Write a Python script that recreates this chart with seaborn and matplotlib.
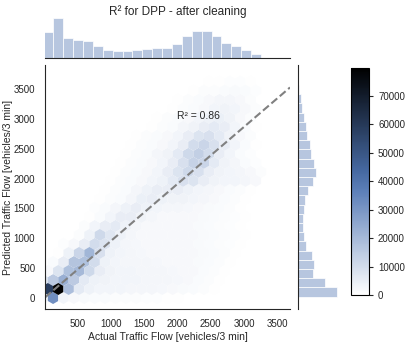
import numpy as np
import matplotlib
matplotlib.use("Agg")
import matplotlib.pyplot as plt
import seaborn as sns
from seaborn.utils import set_hls_values

# --- data ------------------------------------------------------------------
# hexbin lattice used for the joint panel (actual on x, predicted on y)
hex_gridsize = 21
actual_extent = (-25, 3255)
predicted_extent = (0, 3620)

# samples per hex cell, in thousands; one list per hex row from bottom to top,
# even rows hold 22 cells, odd rows are the half-shifted lattice with 21 cells
hex_counts_k = [
    [3, 32, 3, 2, 1.8, 1.5, 1.5, 1.2, 1, 1, 0.8, 0.8, 0.6, 0.5, 0.3, 0, 0, 0, 0, 0, 0, 0],
    [58, 79.8, 19, 6, 4, 3, 3, 3, 2.8, 2.5, 2.5, 2.2, 2, 1.8, 1.5, 1, 0.5, 0, 0, 0, 0],
    [8, 15, 23, 15, 6, 4, 3.5, 3, 3, 3, 2.8, 2.5, 2.5, 2.2, 2, 1.5, 1, 0.5, 0, 0, 0, 0],
    [2, 8, 18, 20, 11, 5, 3.5, 3, 3, 2.8, 2.5, 2.5, 2.2, 2, 2, 1.5, 1, 0.5, 0, 0, 0],
    [0, 1.5, 5, 17, 18, 10, 4, 3, 2.5, 2.5, 2.5, 2.2, 2, 2, 2, 1.8, 1.5, 1, 0.5, 0, 0, 0],
    [0, 0.5, 4, 12, 21, 9, 4, 3, 2.5, 2.2, 2, 2, 2, 2, 2, 1.8, 1.5, 1, 0.5, 0, 0],
    [0, 0, 0.8, 2, 5, 10, 8, 4, 2.5, 2.2, 2, 2, 2, 2, 2, 1.8, 1.5, 1.2, 0.8, 0.4, 0, 0],
    [0, 0, 0, 1, 4, 11, 7, 4, 2.5, 2, 2, 2, 2, 2, 2, 1.8, 1.5, 1.2, 0.8, 0.4, 0],
    [0, 0, 0, 0, 1, 3, 5, 6, 4, 2.5, 2, 2, 2, 2, 2, 1.8, 1.5, 1.2, 0.8, 0.4, 0, 0],
    [0, 0, 0, 0, 0.5, 1.5, 3, 5, 5, 3.5, 2.5, 2, 2, 2, 2, 1.8, 1.5, 1.2, 0.8, 0.4, 0],
    [0, 0, 0, 0, 0, 0.8, 1.5, 2.5, 4, 5, 4, 3, 2.5, 2.5, 2.2, 2, 1.8, 1.5, 1, 0.5, 0, 0],
    [0, 0, 0, 0, 0, 0.5, 1, 1.5, 2.5, 4.5, 5, 4, 3.5, 3.5, 3, 2.5, 2, 1.5, 1, 0.5, 0],
    [0, 0, 0, 0, 0, 0, 0.5, 1, 1.5, 2.5, 4, 5, 5, 5, 4, 3, 2.5, 2, 1.5, 1, 0.5, 0],
    [0, 0, 0, 0, 0, 0, 0.5, 1, 1.5, 2, 3, 4, 6, 9, 8, 5, 3.5, 3, 3, 2.5, 2],
    [0, 0, 0, 0, 0, 0, 0, 0.5, 1, 1.5, 2, 3, 5, 8, 11, 9, 5, 3.5, 3, 2.5, 2, 1],
    [0, 0, 0, 0, 0, 0, 0, 0.5, 1, 1.5, 2, 3, 5, 9, 13, 12, 6, 3.5, 2.5, 1.5, 0.8],
    [0, 0, 0, 0, 0, 0, 0, 0, 0.5, 1, 1.5, 2.5, 3.5, 6, 11, 14, 10, 5, 3, 1.5, 0.8, 0],
    [0, 0, 0, 0, 0, 0, 0, 0, 0.5, 1, 1.5, 2, 3, 5, 10, 12, 9, 5, 3, 1.5, 0.5],
    [0, 0, 0, 0, 0, 0, 0, 0, 0, 0.5, 1, 1.5, 2, 3, 5, 8, 9, 6, 3.5, 2, 1, 0],
    [0, 0, 0, 0, 0, 0, 0, 0, 0, 0, 0.5, 1, 1.5, 2.5, 3.5, 5, 6, 5, 3, 1.5, 0.5],
    [0, 0, 0, 0, 0, 0, 0, 0, 0, 0, 0, 0.5, 1, 1.5, 2, 3, 4, 4.5, 3.5, 2, 1, 0],
    [0, 0, 0, 0, 0, 0, 0, 0, 0, 0, 0, 0, 0.5, 1, 1.5, 2, 3, 3.5, 3, 2, 1],
    [0, 0, 0, 0, 0, 0, 0, 0, 0, 0, 0, 0, 0, 0.5, 1, 1.5, 2, 2.5, 2.5, 2, 1, 0],
    [0, 0, 0, 0, 0, 0, 0, 0, 0, 0, 0, 0, 0, 0, 0.5, 1, 1.2, 1.5, 1.8, 1.5, 0.8],
    [0, 0, 0, 0, 0, 0, 0, 0, 0, 0, 0, 0, 0, 0, 0, 0, 0.5, 0.6, 0.8, 0.8, 0.5, 0],
]

# marginal histograms (relative heights, bins from low to high flow)
actual_hist_range = (-15, 3255)
actual_hist = [78, 120, 60, 55, 50, 37, 25, 20, 20, 23, 27, 29, 31, 43, 67, 80,
               80, 65, 45, 35, 25, 12]
predicted_hist_range = (22, 3566)
predicted_hist = [117, 80, 46, 47, 42, 23, 17, 14, 15, 18, 20, 30, 44, 53, 47,
                  40, 35, 28, 23, 18, 13, 10, 3]

# fitted line and score
fit_slope = 0.955
fit_intercept = 0.0
r2_text = "R² = 0.86"
r2_pos = (2000, 3000)

title = "R² for DPP - after cleaning"
xlabel = "Actual Traffic Flow [vehicles/3 min]"
ylabel = "Predicted Traffic Flow [vehicles/3 min]"

# --- build hex cell table ---------------------------------------------------
nx = hex_gridsize
ny = int(nx / np.sqrt(3))
sx = (actual_extent[1] - actual_extent[0]) / nx
sy = (predicted_extent[1] - predicted_extent[0]) / ny
hx, hy, hc = [], [], []
for k, row in enumerate(hex_counts_k):
    for i, c in enumerate(row):
        if c <= 0:
            continue
        hx.append(actual_extent[0] + (i + 0.5 * (k % 2)) * sx)
        hy.append(predicted_extent[0] + k * sy / 2)
        hc.append(c * 1000)
hx, hy, hc = np.array(hx), np.array(hy), np.array(hc)

sns.set_style("white")
plt.rcParams["font.family"] = ["Liberation Sans", "DejaVu Sans"]

base = sns.color_palette("deep")[0]
cmap = sns.blend_palette([set_hls_values(base, l=l) for l in np.linspace(1, 0, 12)],
                         as_cmap=True)

g = sns.JointGrid(height=3.43)
fig = g.figure
fig.set_size_inches(4.07, 3.43)
fig.set_dpi(100)

ax = g.ax_joint
hb = ax.hexbin(hx, hy, C=hc, reduce_C_function=np.sum, gridsize=nx,
               extent=(*actual_extent, *predicted_extent), cmap=cmap,
               vmin=0, vmax=hc.max(), linewidths=0)

xedges = np.linspace(*actual_hist_range, len(actual_hist) + 1)
yedges = np.linspace(*predicted_hist_range, len(predicted_hist) + 1)
sns.histplot(x=(xedges[:-1] + xedges[1:]) / 2, weights=actual_hist, bins=list(xedges),
             ax=g.ax_marg_x, color=base, alpha=0.4, edgecolor="white", linewidth=0.5)
sns.histplot(y=(yedges[:-1] + yedges[1:]) / 2, weights=predicted_hist, bins=list(yedges),
             ax=g.ax_marg_y, color=base, alpha=0.4, edgecolor="white", linewidth=0.5)
for m in (g.ax_marg_x, g.ax_marg_y):
    m.set_xlabel("")
    m.set_ylabel("")

ax.set_xlim(10, 3690)
ax.set_ylim(-184, 3900)
lx = np.array(ax.get_xlim())
ax.plot(lx, fit_intercept + fit_slope * lx, ls="--", color="grey", lw=1.5)
ax.set_xlim(10, 3690)
ax.text(*r2_pos, r2_text, fontsize=7.5, color=".15")

ax.set_xlabel(xlabel, fontsize=7.5, color=".15", labelpad=2)
ax.set_ylabel(ylabel, fontsize=7.5, color=".15", labelpad=0.5)
ax.tick_params(labelsize=7, colors=".15")

W, H = 407, 343
ax.set_position([45 / W, (H - 309) / H, 245 / W, 244 / H])
g.ax_marg_x.set_position([45 / W, (H - 58) / H, 245 / W, 42 / H])
g.ax_marg_y.set_position([298 / W, (H - 309) / H, 41 / W, 244 / H])

cax = fig.add_axes([351 / W, (H - 295) / H, 18 / W, 227 / H])
cb = fig.colorbar(hb, cax=cax)
cb.outline.set_linewidth(0.8)
cb.outline.set_edgecolor("black")
cax.tick_params(labelsize=7, length=3, width=0.8, colors=".15")

fig.text(177.5 / W, (H - 15) / H, title, ha="center", va="baseline", fontsize=8.5,
         color=".15")

fig.savefig("out.png", dpi=100)
